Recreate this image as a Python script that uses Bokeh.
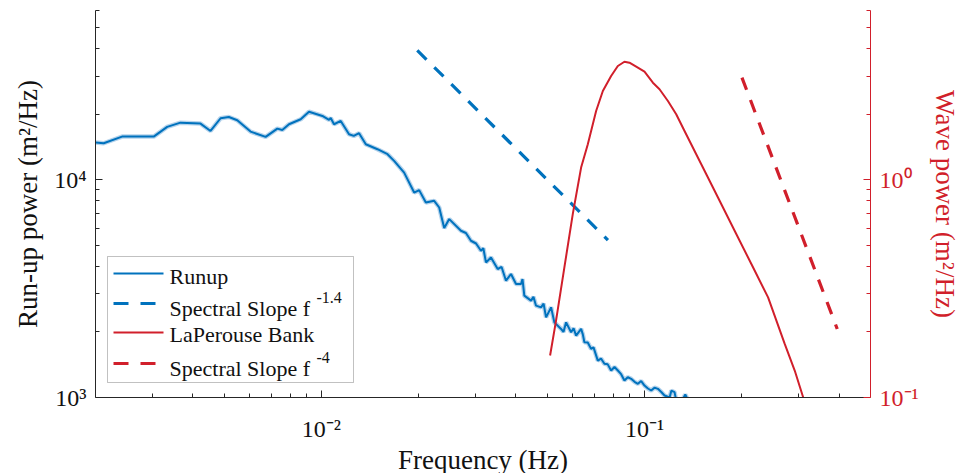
from bokeh.plotting import figure
from bokeh.models import (Range1d, LogScale, LogAxis, FixedTicker, Label,
                          BoxAnnotation, Arrow)
from bokeh.embed import file_html
from bokeh.resources import INLINE

# ---------------- data ----------------
runup_f = [0.00200, 0.00212, 0.002416, 0.003028, 0.003333, 0.003664, 0.004226,
           0.004539, 0.004876, 0.005172, 0.005491, 0.006037, 0.006721, 0.007306,
           0.007569, 0.007938, 0.008629, 0.009154, 0.010071, 0.010559, 0.010687,
           0.010941, 0.011477, 0.012177, 0.012593, 0.013078, 0.013720, 0.014909,
           0.016016, 0.016788, 0.018030, 0.019364, 0.020064, 0.021048, 0.022336,
           0.023147, 0.023988, 0.024858, 0.027029, 0.0280, 0.029024, 0.0301,
           0.031168, 0.0317, 0.032299, 0.033473, 0.035117, 0.0361, 0.037253,
           0.038606, 0.040009, 0.041463, 0.0419, 0.042448, 0.044530, 0.0453,
           0.046147, 0.047824, 0.0487, 0.049560, 0.051359, 0.052579, 0.055156,
           0.0561, 0.057159, 0.059234, 0.0603, 0.061384, 0.063613, 0.0644,
           0.065126, 0.0667, 0.068309, 0.0695, 0.071653, 0.0733, 0.075094,
           0.0769, 0.078778, 0.0807, 0.082642, 0.0846, 0.086611, 0.0887,
           0.090861, 0.0931, 0.095330, 0.0976, 0.099931, 0.1024, 0.10481,
           0.1073, 0.10995, 0.1126, 0.11527, 0.1195, 0.1210, 0.12378, 0.12526,
           0.12984, 0.13360, 0.13740]
runup_p = [14830, 14730, 15800, 15800, 17510, 18320, 18130, 16780, 19190, 19450,
           18790, 16660, 15750, 17200, 16960, 18010, 18980, 20570, 19660, 18850,
           19250, 18010, 18650, 16210, 15920, 16380, 14580, 13830, 13120, 12230,
           10800, 8745, 8970, 7870, 8010, 7463, 6003, 6603, 5837, 5700, 5251,
           5100, 4724, 4850, 4174, 4401, 3894, 3980, 3441, 3693, 3323, 3323, 3500,
           2937, 2786, 2900, 2642, 2596, 2700, 2335, 2596, 2214, 2066, 2000,
           2214, 1993, 2080, 1925, 2066, 1950, 1794, 1790, 1673, 1700, 1478,
           1510, 1428, 1420, 1330, 1380, 1330, 1280, 1197, 1240, 1218, 1180,
           1156, 1190, 1135, 1100, 1077, 1110, 1096, 1060, 1021, 1000, 1075,
           1058, 969, 948, 1032, 948]

wave_f = [0.051003, 0.053211, 0.056468, 0.059946, 0.063613, 0.066730, 0.070795,
          0.074270, 0.078778, 0.082642, 0.086611, 0.089754, 0.094189, 0.099931,
          0.10609, 0.11122, 0.11807, 0.12526, 0.13292, 0.14975, 0.16868, 0.18993,
          0.21397, 0.24104, 0.27137, 0.29140, 0.30942, 0.31685]
wave_p = [0.15589, 0.22554, 0.39610, 0.69599, 1.1387, 1.4581, 2.0729, 2.5604,
          2.9997, 3.3343, 3.4895, 3.4527, 3.3098, 3.1397, 2.7943, 2.6073, 2.3036,
          2.0016, 1.6780, 1.1803, 0.82938, 0.58371, 0.41057, 0.28847, 0.17633,
          0.13302, 0.10032, 0.089]

slope_runup_f = [0.0198, 0.0770]
slope_runup_p = [39355, 5290]
slope_wave_f = [0.2001, 0.3945]
slope_wave_p = [2.95, 0.2065]

x_major = [0.01, 0.1]
x_minor = [0.003, 0.004, 0.005, 0.006, 0.007, 0.008, 0.009,
           0.02, 0.03, 0.04, 0.05, 0.06, 0.07, 0.08, 0.09,
           0.2, 0.3, 0.4]
x_labels = {0.01: "10\u207b\u00b2", 0.1: "10\u207b\u00b9"}
yl_major = [1000, 10000]
yl_minor = [2000, 3000, 4000, 5000, 6000, 7000, 8000, 9000,
            20000, 30000, 40000, 50000, 60000]
yl_labels = {1000: "10\u00b3", 10000: "10\u2074"}
yr_major = [0.1, 1]
yr_minor = [0.2, 0.3, 0.4, 0.5, 0.6, 0.7, 0.8, 0.9, 2, 3, 4, 5, 6]
yr_labels = {0.1: "10\u207b\u00b9", 1: "10\u2070"}

legend_labels = ["Runup", "Spectral Slope f", "LaPerouse Bank", "Spectral Slope f"]
legend_sups = ["", "-1.4", "", "-4"]

# ---------------- styling ----------------
BLUE = "#0072BD"
BLUE_LIGHT = "#B5D3EC"
RED = "#D11F2B"
DARK = "#262626"
FONT = "Liberation Serif"

p = figure(frame_width=775, frame_height=387,
           x_axis_type="log", y_axis_type="log",
           x_range=Range1d(0.002, 0.5), y_range=Range1d(1000, 60000),
           output_backend="svg", toolbar_location=None,
           min_border_left=95, min_border_right=96,
           min_border_top=10, min_border_bottom=76)
p.background_fill_color = "white"
p.border_fill_color = "white"
p.outline_line_color = None
p.grid.visible = False

p.extra_y_ranges = {"wave": Range1d(0.1, 6)}
p.extra_y_scales = {"wave": LogScale()}


def style_axis(ax, color, label_color):
    ax.axis_line_color = color
    ax.major_tick_line_color = color
    ax.minor_tick_line_color = color
    ax.major_tick_in = 7
    ax.major_tick_out = 0
    ax.minor_tick_in = 4
    ax.minor_tick_out = 0
    ax.major_label_text_font = FONT
    ax.major_label_text_font_size = "24px"
    ax.major_label_text_color = label_color
    ax.axis_label_text_font = FONT
    ax.axis_label_text_font_size = "27px"
    ax.axis_label_text_font_style = "normal"
    ax.axis_label_text_color = label_color


xa = p.xaxis[0]
xa.ticker = FixedTicker(ticks=x_major, minor_ticks=x_minor)
xa.major_label_overrides = x_labels
xa.axis_label = "Frequency (Hz)"
style_axis(xa, DARK, "#111111")
xa.major_label_standoff = 18
xa.axis_label_standoff = 0

ya = p.yaxis[0]
ya.ticker = FixedTicker(ticks=yl_major, minor_ticks=yl_minor)
ya.major_label_overrides = yl_labels
ya.axis_label = "Run-up power (m\u00b2/Hz)"
style_axis(ya, DARK, "#111111")
ya.major_label_standoff = 9
ya.axis_label_standoff = 8

yr = LogAxis(y_range_name="wave")
yr.ticker = FixedTicker(ticks=yr_major, minor_ticks=yr_minor)
yr.major_label_overrides = yr_labels
yr.axis_label = "Wave power (m\u00b2/Hz)"
style_axis(yr, RED, RED)
yr.major_label_standoff = 9
yr.axis_label_standoff = 8
p.add_layout(yr, "right")

# ---------------- data glyphs ----------------
p.line(runup_f, runup_p, line_color=BLUE_LIGHT, line_width=4.5)
p.line(runup_f, runup_p, line_color=BLUE, line_width=2)
p.line(slope_runup_f, slope_runup_p, line_color=BLUE, line_width=3.2,
       line_dash="13 11")
p.line(wave_f, wave_p, line_color=RED, line_width=2, y_range_name="wave")
p.line(slope_wave_f, slope_wave_p, line_color=RED, line_width=3.2,
       line_dash="13 11", y_range_name="wave")

# ---------------- legend (drawn by hand, screen units) ----------------
FL, FB = 95, 397  # frame left / bottom in canvas pixels


def sx(cx):
    return cx - FL


def sy(cy):
    return FB - cy


p.add_layout(BoxAnnotation(left=sx(107), right=sx(353), top=sy(256), bottom=sy(382),
                           left_units="screen", right_units="screen",
                           top_units="screen", bottom_units="screen",
                           fill_color="white", fill_alpha=1.0,
                           line_color="#333333", line_width=1, level="overlay"))

rows_y = [273, 303, 332, 363]
base_y = [276, 308, 334, 368]
colors = [BLUE, BLUE, RED, RED]
dashes = ["solid", "15 12", "solid", "15 12"]
widths = [2, 3.2, 2, 3.2]
for i in range(4):
    p.add_layout(Arrow(end=None, start=None,
                       x_start=sx(113), y_start=sy(rows_y[i]),
                       x_end=sx(163), y_end=sy(rows_y[i]),
                       start_units="screen", end_units="screen",
                       line_color=colors[i], line_width=widths[i],
                       line_dash=dashes[i], level="overlay"))
    p.add_layout(Label(x=sx(169), y=sy(base_y[i]), x_units="screen", y_units="screen",
                       text=legend_labels[i], text_font=FONT, text_font_size="22px",
                       text_color="#111111", text_baseline="alphabetic",
                       level="overlay"))
    if legend_sups[i]:
        p.add_layout(Label(x=sx(316), y=sy(base_y[i] - 11), x_units="screen",
                           y_units="screen", text=legend_sups[i], text_font=FONT,
                           text_font_size="16px", text_color="#111111",
                           text_baseline="alphabetic", level="overlay"))

open("out.html", "w").write(file_html(p, INLINE))
